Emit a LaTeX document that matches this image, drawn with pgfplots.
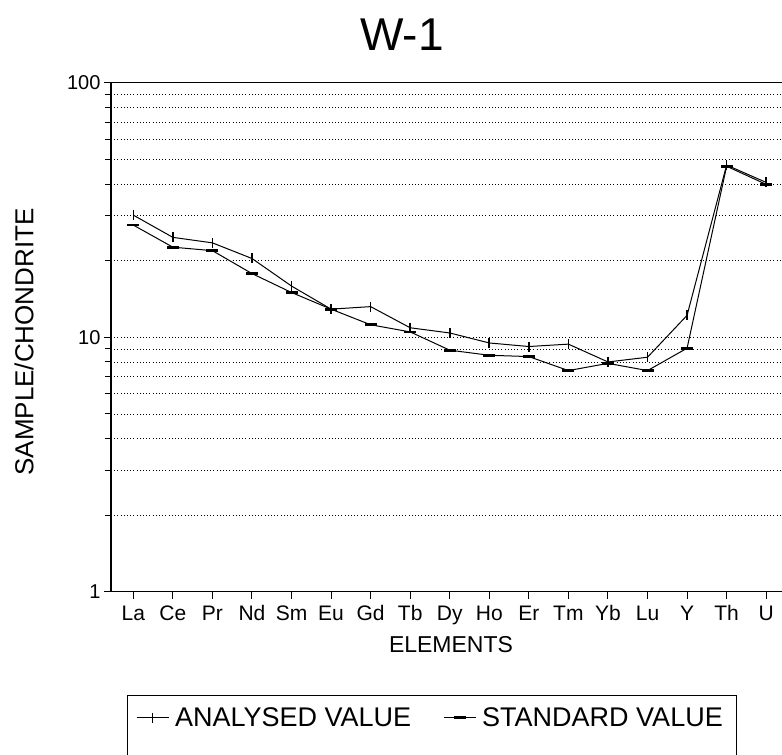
\documentclass[border=0pt]{standalone}
\usepackage{pgfplots}
\pgfplotsset{compat=1.18}
\usepackage{fontspec}
\setmainfont{Liberation Sans}

% chondrite-normalised REE pattern of W-1
\pgfplotstableread{
x  analysed  standard
0  30.2  27.6
1  24.7  22.6
2  23.5  21.9
3  20.4  17.8
4  15.9  15.0
5  12.9  12.9
6  13.2  11.2
7  10.9  10.5
8  10.4  8.9
9  9.5   8.5
10 9.2   8.4
11 9.4   7.4
12 8.0   7.9
13 8.35  7.4
14 12.2  9.06
15 47.5  47.0
16 40.6  39.9
}\ree

\begin{document}
\begin{tikzpicture}[x=1pt,y=1pt]
\useasboundingbox (-111,-163.2) rectangle (671,591.8);
\begin{axis}[
  at={(0,0)}, anchor=south west,
  scale only axis, width=671pt, height=509pt,
  ymode=log, ymin=1, ymax=100,
  xmin=-0.564, xmax=16.40,
  axis x line*=bottom, axis y line*=left,
  axis line style={line width=1.3pt},
  tick align=outside,
  major tick length=7pt, minor tick length=6pt,
  tick style={black, line width=1pt},
  xtick={0,...,16},
  xticklabels={La,Ce,Pr,Nd,Sm,Eu,Gd,Tb,Dy,Ho,Er,Tm,Yb,Lu,Y,Th,U},
  xticklabel style={font=\fontsize{21}{24}\selectfont, yshift=-3pt,
    text height=15.5pt, text depth=4.5pt},
  ytick={1,10,100}, yticklabels={1,10,100},
  minor ytick={2,3,4,5,6,7,8,9,20,30,40,50,60,70,80,90},
  yticklabel style={font=\fontsize{20}{23}\selectfont},
  ymajorgrids, yminorgrids,
  major grid style={dash pattern=on 1pt off 2.2pt, line width=0.8pt, black},
  minor grid style={dash pattern=on 1pt off 2.2pt, line width=0.8pt, black},
  title={W-1},
  title style={at={(axis description cs:0.4337,1.0507)}, anchor=base,
    font=\fontsize{46}{50}\selectfont},
  xlabel={ELEMENTS},
  xlabel style={at={(axis description cs:0.5067,-0.1187)}, anchor=base,
    font=\fontsize{23}{26}\selectfont},
  ylabel={SAMPLE/CHONDRITE},
  ylabel style={at={(axis description cs:-0.1297,0.4908)}, anchor=center,
    font=\fontsize{26}{29}\selectfont},
  legend columns=2,
  legend style={name=leg, at={(axis description cs:0.9329,-0.2031)},
    anchor=north east, draw=none, font=\fontsize{27}{30}\selectfont,
    inner xsep=8pt, inner ysep=10pt,
    nodes={inner xsep=6pt},
    /tikz/every even column/.append style={column sep=26pt}},
  legend image code/.code={%
    \draw[mark repeat=2, mark phase=2, #1]
      plot coordinates {(0pt,0pt) (16pt,0pt) (32pt,0pt)};},
]
\draw[black, line width=1.3pt] (rel axis cs:0,1) -- (rel axis cs:1,1);
\addplot[black, line width=1pt, mark=|, mark size=5pt,
  mark options={line width=1.6pt}] table[x=x, y=analysed] {\ree};
\addlegendentry{ANALYSED VALUE}
\addplot[black, line width=1pt, mark=-, mark size=6pt,
  mark options={line width=2.8pt}] table[x=x, y=standard] {\ree};
\addlegendentry{STANDARD VALUE}
\end{axis}
% legend frame, running on past the lower edge
\draw[black, line width=1pt]
  ([yshift=-80pt]leg.north west) -- (leg.north west)
  -- (leg.north east) -- ([yshift=-80pt]leg.north east);
\end{tikzpicture}
\end{document}
